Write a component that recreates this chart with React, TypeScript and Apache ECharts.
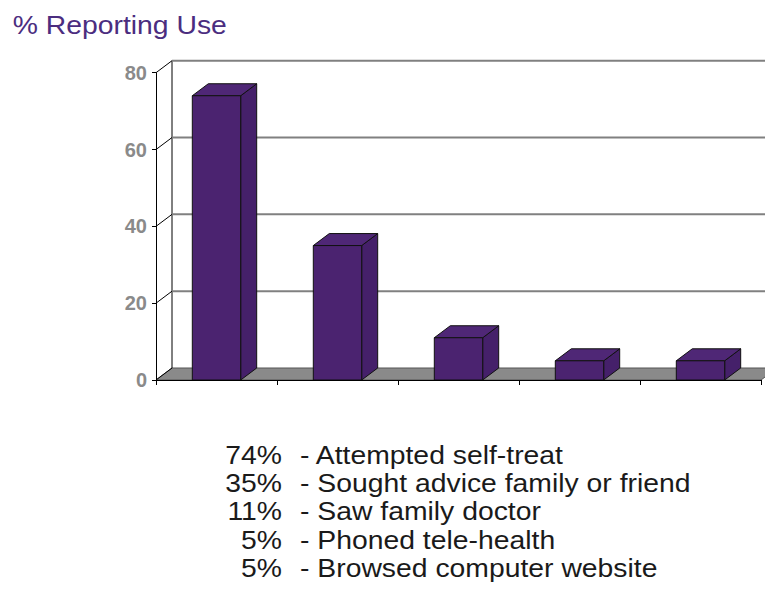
import React, { useEffect, useRef } from "react";
import * as echarts from "echarts";

const categories = [
  "Attempted self-treat",
  "Sought advice family or friend",
  "Saw family doctor",
  "Phoned tele-health",
  "Browsed computer website",
];
const values = [74, 35, 11, 5, 5];
const pctLabels = ["74%", "35%", "11%", "5%", "5%"];
const yTicks = [0, 20, 40, 60, 80];
const titleText = "% Reporting Use";

const DX = 16;
const DY = -12;
const FONT = "'Liberation Sans', Arial, Helvetica, sans-serif";

export default function App() {
  const ref = useRef<HTMLDivElement>(null);
  useEffect(() => {
    if (!ref.current) return;
    const chart = echarts.init(ref.current, null, { renderer: "svg" });

    const legendGraphics: any[] = [];
    categories.forEach((c, i) => {
      const y = 454.7 + i * 28.35;
      legendGraphics.push({
        type: "text",
        x: 282,
        y,
        scaleX: 1.09,
        style: {
          text: pctLabels[i],
          fill: "#1a1a1a",
          font: `26px ${FONT}`,
          align: "right",
          verticalAlign: "middle",
        },
      });
      legendGraphics.push({
        type: "text",
        x: 300,
        y,
        scaleX: 1.09,
        style: {
          text: "- " + c,
          fill: "#1a1a1a",
          font: `26px ${FONT}`,
          align: "left",
          verticalAlign: "middle",
        },
      });
    });

    const option: any = {
      animation: false,
      backgroundColor: "#ffffff",
      grid: {
        left: 156,
        right: 4,
        top: 72.7,
        bottom: 230,
        containLabel: false,
        outerBoundsMode: "none",
      },
      xAxis: {
        type: "category",
        data: categories,
        z: 10,
        axisLine: { show: true, lineStyle: { color: "#000", width: 1 } },
        axisTick: { show: true, interval: 0, length: 5, lineStyle: { color: "#000" } },
        axisLabel: { show: false, interval: 0 },
        splitLine: { show: false },
      },
      yAxis: {
        type: "value",
        min: 0,
        max: 80,
        interval: 20,
        z: 10,
        axisLine: { show: true, lineStyle: { color: "#000", width: 1 } },
        axisTick: { show: true, length: 4, lineStyle: { color: "#000" } },
        axisLabel: {
          show: true,
          margin: 9,
          color: "#8a8a8a",
          fontFamily: FONT,
          fontWeight: "bold",
          fontSize: 20,
        },
        splitLine: { show: false },
      },
      series: [
        {
          type: "custom",
          z: 1,
          silent: true,
          data: yTicks.map((t) => [0, t]),
          renderItem: (params: any, api: any) => {
            const cs = params.coordSys;
            const t = api.value(1);
            const p = api.coord([0, t]);
            const y = p[1];
            const x0 = cs.x;
            const x1 = cs.x + cs.width;
            const children: any[] = [];
            if (t === 0) {
              children.push({
                type: "polygon",
                shape: {
                  points: [
                    [x0, y],
                    [x1, y],
                    [x1 + DX, y + DY],
                    [x0 + DX, y + DY],
                  ],
                },
                style: { fill: "#8a8a8a", stroke: "#555", lineWidth: 1 },
              });
              children.push({
                type: "line",
                shape: { x1: x0 + DX, y1: cs.y + DY, x2: x0 + DX, y2: cs.y + cs.height + DY },
                style: { stroke: "#000", lineWidth: 1 },
              });
            } else {
              children.push({
                type: "line",
                shape: { x1: x0 + DX, y1: y + DY, x2: x1 + DX, y2: y + DY },
                style: { stroke: "#808080", lineWidth: 2 },
              });
            }
            children.push({
              type: "line",
              shape: { x1: x0, y1: y, x2: x0 + DX, y2: y + DY },
              style: { stroke: "#000", lineWidth: 1 },
            });
            return { type: "group", children };
          },
        },
        {
          type: "custom",
          z: 3,
          data: values.map((v, i) => [i, v]),
          renderItem: (params: any, api: any) => {
            const idx = api.value(0);
            const v = api.value(1);
            const base = api.coord([idx, 0]);
            const top = api.coord([idx, v]);
            const bw = api.size([1, 0])[0] * 0.4;
            const xa = top[0] - bw / 2;
            const xb = top[0] + bw / 2;
            const yT = top[1];
            const yB = base[1];
            const stroke = { stroke: "#111", lineWidth: 1 };
            return {
              type: "group",
              children: [
                {
                  type: "polygon",
                  shape: {
                    points: [
                      [xb, yT],
                      [xb + DX, yT + DY],
                      [xb + DX, yB + DY],
                      [xb, yB],
                    ],
                  },
                  style: { fill: "#45206a", ...stroke },
                },
                {
                  type: "polygon",
                  shape: {
                    points: [
                      [xa, yT],
                      [xb, yT],
                      [xb + DX, yT + DY],
                      [xa + DX, yT + DY],
                    ],
                  },
                  style: { fill: "#4f2776", ...stroke },
                },
                {
                  type: "rect",
                  shape: { x: xa, y: yT, width: bw, height: yB - yT },
                  style: { fill: "#4b2370", ...stroke },
                },
              ],
            };
          },
        },
      ],
      graphic: [
        {
          type: "text",
          x: 12.7,
          y: 24.7,
          scaleX: 1.09,
          style: {
            text: titleText,
            fill: "#4b2d7f",
            font: `26px ${FONT}`,
            align: "left",
            verticalAlign: "middle",
          },
        },
        ...legendGraphics,
      ],
    };
    chart.setOption(option);
    return () => chart.dispose();
  }, []);
  return (
    <div
      ref={ref}
      style={{ position: "fixed", left: 0, top: 0, width: 765, height: 610 }}
    />
  );
}
